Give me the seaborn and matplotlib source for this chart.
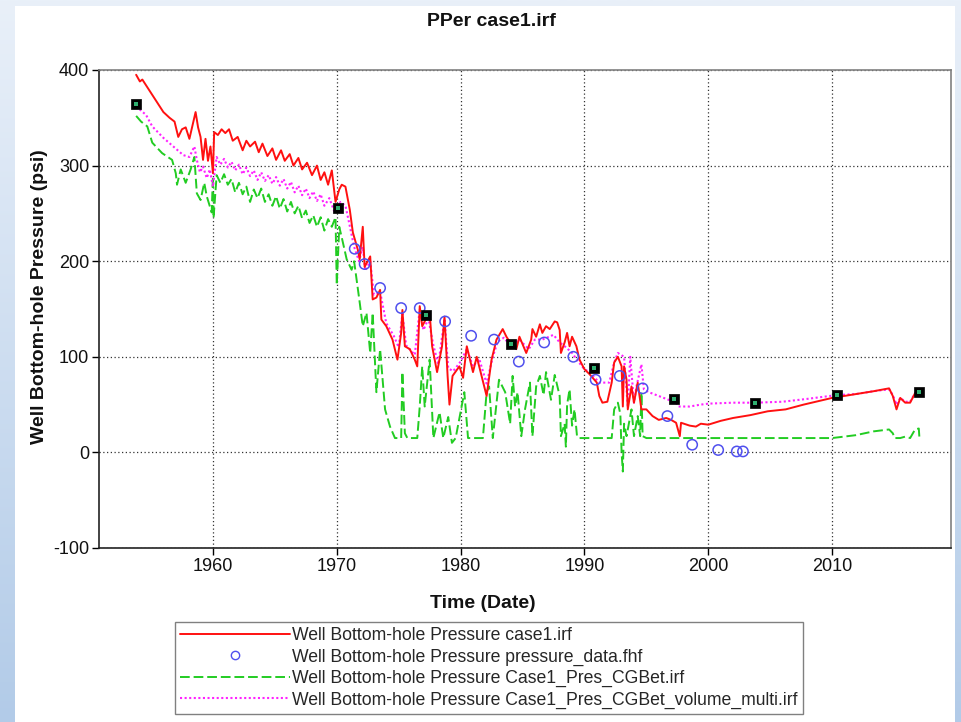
import numpy as np
import pandas as pd
import seaborn as sns
import matplotlib
matplotlib.use("Agg")
import matplotlib.pyplot as plt
from matplotlib.patches import Rectangle
from matplotlib.colors import to_rgb
from matplotlib.lines import Line2D

# ---------------- data ----------------
red_year = [1953.8, 1954.1, 1954.3, 1954.7, 1955.0, 1955.5, 1956.0, 1956.5, 1956.9, 1957.2,
            1957.5, 1957.8, 1958.1, 1958.4, 1958.6, 1958.8, 1959.0, 1959.2, 1959.4, 1959.6,
            1959.8, 1960.0, 1960.1, 1960.4, 1960.7, 1961.0, 1961.3, 1961.6, 1962.0, 1962.4,
            1962.7, 1963.0, 1963.4, 1963.7, 1964.0, 1964.4, 1964.8, 1965.1, 1965.5, 1965.8,
            1966.2, 1966.5, 1966.9, 1967.2, 1967.6, 1968.0, 1968.4, 1968.7, 1969.0, 1969.3,
            1969.6, 1969.9, 1970.2, 1970.4, 1970.7, 1971.05, 1971.3, 1971.7, 1971.85, 1972.1,
            1972.25, 1972.7, 1972.9, 1973.2, 1973.5, 1973.6, 1974.0, 1974.5, 1974.9, 1975.2,
            1975.3, 1975.5, 1975.9, 1976.3, 1976.5, 1976.7, 1976.9, 1977.3, 1977.5, 1977.7,
            1978.1, 1978.5, 1978.7, 1978.95, 1979.1, 1979.35, 1979.9, 1980.2, 1980.5, 1981.0,
            1981.3, 1981.5, 1982.1, 1982.5, 1982.9, 1983.4, 1983.7, 1984.0, 1984.5, 1984.75,
            1985.3, 1985.7, 1985.8, 1986.1, 1986.4, 1986.6, 1986.9, 1987.2, 1987.6, 1987.8,
            1988.0, 1988.1, 1988.4, 1988.6, 1988.8, 1989.0, 1989.35, 1989.6, 1990.0, 1990.4,
            1991.0, 1991.2, 1991.45, 1991.85, 1992.2, 1992.4, 1992.7, 1993.0, 1993.1, 1993.2,
            1993.4, 1993.5, 1993.8, 1994.0, 1994.3, 1994.6, 1995.0, 1995.5, 1996.0, 1996.6,
            1997.0, 1997.4, 1997.7, 1997.8, 1998.5, 1999.0, 1999.4, 2000.0, 2001.0, 2002.0,
            2003.4, 2004.8, 2006.25, 2007.7, 2010.0, 2011.9, 2013.35, 2014.6, 2014.9, 2015.2,
            2015.5, 2015.9, 2016.3, 2016.7, 2017.0]
red_val = [395, 388, 390, 382, 376, 366, 356, 350, 346, 330,
           338, 340, 328, 345, 356, 340, 330, 306, 328, 305,
           320, 292, 335, 332, 338, 334, 338, 326, 330, 316,
           326, 320, 325, 314, 323, 310, 318, 306, 316, 305,
           312, 300, 308, 296, 303, 290, 300, 285, 293, 280,
           295, 262, 275, 280, 278, 254, 230, 212, 202, 236,
           194, 205, 160, 162, 170, 139, 132, 118, 97, 125,
           149, 111, 108, 97, 90, 153, 132, 142, 146, 111,
           84, 111, 142, 80, 50, 80, 90, 78, 111, 84,
           100, 90, 59, 97, 118, 129, 121, 115, 108, 121,
           104, 118, 129, 121, 134, 125, 132, 129, 137, 136,
           128, 104, 115, 125, 111, 121, 111, 97, 87, 82,
           73, 59, 52, 53, 73, 94, 100, 90, 48, 90,
           76, 45, 69, 52, 73, 45, 45, 38, 34, 36,
           34, 31, 17, 31, 28, 27, 30, 29, 33, 36,
           39, 43, 45, 50, 57, 61, 64, 67, 59, 45,
           57, 52, 52, 62, 64]

mag_year = [1953.8, 1954.6, 1955.1, 1956.0, 1956.8, 1957.6, 1958.1, 1958.5, 1958.7, 1958.95,
            1959.2, 1959.5, 1959.75, 1960.0, 1960.3, 1960.6, 1960.9, 1961.2, 1961.5, 1961.8,
            1962.1, 1962.4, 1962.7, 1963.0, 1963.3, 1963.6, 1963.9, 1964.2, 1964.5, 1964.8,
            1965.1, 1965.4, 1965.7, 1966.0, 1966.3, 1966.6, 1966.9, 1967.2, 1967.5, 1967.8,
            1968.1, 1968.4, 1968.7, 1969.0, 1969.4, 1969.8, 1970.0, 1970.3, 1970.7,
            1971.0, 1971.4, 1971.8, 1972.1, 1972.3, 1972.7, 1973.0, 1973.5, 1974.0, 1974.6,
            1975.0, 1975.3, 1975.6, 1976.3, 1976.7, 1977.0, 1977.4, 1977.8, 1978.2, 1978.7,
            1979.0, 1979.4, 1980.0, 1980.5, 1981.0, 1981.5, 1982.1, 1982.6, 1983.0, 1983.5,
            1984.0, 1984.75, 1985.5, 1986.0, 1986.6, 1987.5, 1988.0, 1988.5, 1989.0, 1989.5,
            1990.0, 1990.4, 1991.2, 1992.0, 1992.4, 1992.7, 1993.2, 1993.5, 1993.7, 1994.0,
            1994.2, 1994.6, 1994.8, 1995.2, 1996.0, 1996.8, 1997.4, 1997.6, 1998.5, 1999.4,
            2000.0, 2002.0, 2003.8, 2006.0, 2008.0, 2010.4, 2011.9, 2013.35, 2014.6, 2014.9,
            2015.2, 2015.5, 2015.9, 2016.3, 2016.7, 2017.0]
mag_val = [362, 353, 341, 329, 320, 311, 309, 320, 306, 293,
           299, 287, 296, 278, 309, 301, 307, 298, 304, 295,
           301, 291, 298, 289, 295, 285, 293, 284, 290, 281,
           288, 279, 286, 276, 283, 272, 279, 269, 276, 266,
           273, 263, 270, 258, 266, 252, 251, 262, 258,
           240, 215, 200, 215, 190, 200, 165, 168, 135, 122,
           110, 145, 112, 102, 150, 128, 140, 112, 92, 140,
           88, 85, 95, 108, 90, 98, 72, 100, 116, 120,
           112, 118, 108, 118, 118, 123, 115, 110, 104, 95,
           87, 84, 73, 73, 94, 104, 100, 48, 100, 52,
           69, 92, 66, 63, 59, 55, 52, 48, 48, 50,
           51, 52, 52, 53, 56, 60, 61, 64, 66, 60,
           50, 57, 53, 53, 62, 64]

grn_year = [1953.8, 1954.2, 1954.7, 1955.1, 1955.9, 1956.7, 1957.0, 1957.1, 1957.4, 1957.8,
            1958.2, 1958.5, 1958.7, 1959.0, 1959.3, 1959.5, 1959.9, 1960.0, 1960.05, 1960.3,
            1960.6, 1960.9, 1961.2, 1961.5, 1961.8, 1962.1, 1962.4, 1962.7, 1963.0, 1963.3,
            1963.6, 1963.9, 1964.2, 1964.5, 1964.8, 1965.1, 1965.4, 1965.7, 1966.0, 1966.3,
            1966.6, 1966.9, 1967.2, 1967.5, 1967.8, 1968.1, 1968.4, 1968.7, 1969.0, 1969.3,
            1969.6, 1969.9, 1970.0, 1970.2, 1970.4, 1970.8, 1971.2,
            1971.4, 1971.6, 1971.85, 1972.1, 1972.4, 1972.7, 1972.9, 1973.2, 1973.5, 1973.9,
            1974.3, 1974.7, 1975.2, 1975.3, 1975.5, 1975.7, 1976.5, 1976.7, 1976.9, 1977.1,
            1977.5, 1977.8, 1978.3, 1978.6, 1979.0, 1979.3, 1979.6, 1980.3, 1980.6, 1981.8,
            1982.1, 1982.3, 1982.6, 1983.1, 1983.6, 1984.0, 1984.2, 1984.4, 1984.6, 1984.9,
            1985.2, 1985.6, 1985.8, 1986.1, 1986.4, 1986.7, 1986.9, 1987.3, 1987.6, 1987.8,
            1988.0, 1988.1, 1988.4, 1988.5, 1988.6, 1988.8, 1989.0, 1989.2, 1989.4, 1989.6,
            1992.2, 1992.4, 1992.7, 1992.9, 1993.0, 1993.1, 1993.2, 1993.4, 1993.8, 1994.0,
            1994.3, 1994.5, 1994.6, 1994.7, 1995.0, 2009.5, 2010.0, 2011.9, 2013.35, 2014.6,
            2014.9, 2015.05, 2015.5, 2015.9, 2016.3, 2016.7, 2017.0, 2017.05]
grn_val = [352, 346, 341, 324, 313, 306, 292, 280, 296, 282,
           296, 309, 271, 264, 282, 268, 251, 289, 245, 290,
           282, 291, 280, 286, 272, 282, 270, 278, 262, 275,
           266, 276, 262, 270, 258, 268, 255, 265, 252, 262,
           250, 258, 245, 253, 240, 248, 236, 246, 232, 244,
           236, 246, 175, 236, 225, 202, 191,
           200, 181, 157, 132, 146, 104, 146, 63, 108, 45,
           27, 15, 15, 84, 20, 15, 15, 48, 90, 48,
           97, 15, 42, 15, 37, 10, 15, 63, 15, 15,
           63, 69, 15, 76, 63, 30, 80, 48, 63, 17,
           45, 73, 17, 69, 80, 60, 84, 55, 81, 70,
           59, 17, 30, 6, 50, 66, 28, 45, 17, 15,
           15, 45, 52, 40, 0, -20, 30, 17, 45, 17,
           38, 17, 63, 17, 15, 15, 15, 18, 22, 24,
           20, 15, 15, 16.5, 15, 24, 25, 15]

obs_year = [1971.45, 1972.25, 1973.5, 1975.2, 1976.7, 1978.75, 1980.85, 1982.7, 1984.7, 1986.75,
            1989.1, 1990.9, 1992.85, 1994.7, 1996.7, 1998.7, 2000.8, 2002.3, 2002.8]
obs_val = [213, 197, 172, 151, 151, 137, 122, 118, 95, 115,
           100, 76, 80, 67, 38, 8, 2.5, 1, 1]

sq_year = [1953.8, 1970.1, 1977.2, 1984.1, 1990.8, 1997.2, 2003.8, 2010.4, 2017.05]
sq_val = [364, 256, 144, 113, 88, 56, 52, 60, 63]

x_ticks = [1960, 1970, 1980, 1990, 2000, 2010]
y_ticks = [-100, 0, 100, 200, 300, 400]

labels = ["Well Bottom-hole Pressure case1.irf",
          "Well Bottom-hole Pressure pressure_data.fhf",
          "Well Bottom-hole Pressure Case1_Pres_CGBet.irf",
          "Well Bottom-hole Pressure Case1_Pres_CGBet_volume_multi.irf"]

# ---------------- styling ----------------
sns.set_theme(style="white")
plt.rcParams["font.family"] = ["Liberation Sans", "DejaVu Sans"]

W, H = 962, 722
fig = plt.figure(figsize=(W / 100, H / 100), dpi=100)

# background gradient + white panel
bg = fig.add_axes([0, 0, 1, 1], zorder=-10)
c_top = np.array(to_rgb("#e9f0f9"))
c_bot = np.array(to_rgb("#b2cbe8"))
t = np.linspace(0, 1, 256)[:, None, None]
grad = c_top[None, None, :] * (1 - t) + c_bot[None, None, :] * t
bg.imshow(grad, aspect="auto", extent=[0, 1, 0, 1], origin="upper")
bg.add_patch(Rectangle((15 / W, 0), (955 - 15) / W, 1 - 6 / H, color="white", lw=0))
bg.set_xlim(0, 1)
bg.set_ylim(0, 1)
bg.axis("off")

ax = fig.add_axes([99 / W, 1 - 548 / H, (951 - 99) / W, (548 - 70) / H])
ax.set_facecolor("white")

df_red = pd.DataFrame({"year": red_year, "p": red_val})
df_mag = pd.DataFrame({"year": mag_year, "p": mag_val})
df_grn = pd.DataFrame({"year": grn_year, "p": grn_val})
df_obs = pd.DataFrame({"year": obs_year, "p": obs_val})
df_sq = pd.DataFrame({"year": sq_year, "p": sq_val})

sns.lineplot(data=df_grn, x="year", y="p", ax=ax, sort=False, estimator=None,
             color="#22cc22", lw=1.4, zorder=3)
ax.lines[-1].set_dashes((5, 2))
sns.lineplot(data=df_mag, x="year", y="p", ax=ax, sort=False, estimator=None,
             color="#ff22ff", lw=1.5, zorder=4)
ax.lines[-1].set_dashes((1, 1.2))
sns.lineplot(data=df_red, x="year", y="p", ax=ax, sort=False, estimator=None,
             color="#ff1010", lw=1.4, zorder=5)
sns.scatterplot(data=df_obs, x="year", y="p", ax=ax, marker="o", s=55,
                facecolors="none", edgecolor="#5050ee", linewidth=1.1, zorder=6)
sns.scatterplot(data=df_sq, x="year", y="p", ax=ax, marker="s", s=55,
                color="black", edgecolor="black", linewidth=0.5, zorder=7)
sns.scatterplot(data=df_sq, x="year", y="p", ax=ax, marker="s", s=6,
                color="#30b070", linewidth=0, zorder=8)

ax.set_xlim(1950.8, 2019.6)
ax.set_ylim(-100, 400)
ax.set_xticks(x_ticks)
ax.set_xticklabels([str(v) for v in x_ticks])
ax.set_yticks(y_ticks)
ax.set_yticklabels([str(v) for v in y_ticks])
ax.tick_params(axis="both", which="major", direction="out", length=5, width=1,
               color="black", labelsize=13, labelcolor="#111111", pad=2,
               bottom=True, left=True, top=False, right=False)
ax.grid(True, color="#333333", linestyle=(0, (1, 2)), linewidth=0.9)
for side in ["left", "bottom"]:
    ax.spines[side].set_color("#222222")
    ax.spines[side].set_linewidth(1.2)
for side in ["top", "right"]:
    ax.spines[side].set_color("#808080")
    ax.spines[side].set_linewidth(1.2)
ax.set_xlabel("")
ax.set_ylabel("")

fig.text(491 / W, 1 - 21 / H, "PPer case1.irf", ha="center", va="center",
         fontsize=14, fontweight="bold", color="#111111")
fig.text(483 / W, 1 - 603 / H, "Time (Date)", ha="center", va="center",
         fontsize=14, fontweight="bold", color="#111111")
fig.text(40 / W, 1 - 297 / H, "Well Bottom-hole Pressure (psi)", ha="center", va="center",
         rotation=90, fontsize=14, fontweight="bold", color="#111111")

# legend
h_red = Line2D([], [], color="#ff1010", lw=1.4)
h_obs = Line2D([], [], color="#5050ee", lw=0, marker="o", markersize=6,
               markerfacecolor="none", markeredgewidth=1.0)
h_grn = Line2D([], [], color="#22cc22", lw=1.4, dashes=(5, 2))
h_mag = Line2D([], [], color="#ff22ff", lw=1.5, dashes=(1, 1.2))
leg = fig.legend([h_red, h_obs, h_grn, h_mag], labels, loc="upper left",
                 bbox_to_anchor=(175 / W, 1 - 622 / H), fontsize=12.7,
                 handlelength=6.2, handletextpad=0.15, labelspacing=0.24,
                 borderpad=0.3, borderaxespad=0, frameon=True, fancybox=False,
                 framealpha=1, edgecolor="#808080")
leg.get_frame().set_linewidth(1.0)

fig.savefig("out.png", dpi=100, facecolor=fig.get_facecolor())
